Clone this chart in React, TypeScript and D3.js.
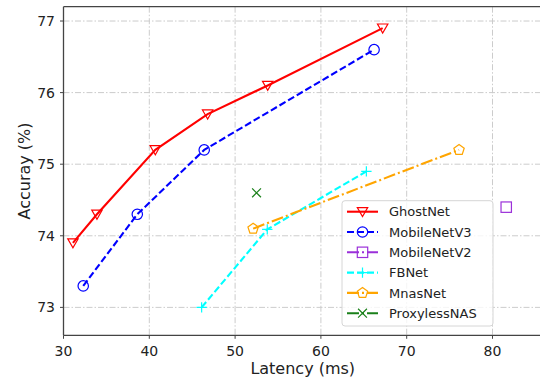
import React from "react";
import * as d3 from "d3";

// latency (ms) / accuracy (%)
const ghostLat = [31.1, 33.9, 40.7, 46.8, 53.8, 67.2];
const ghostAcc = [73.9, 74.3, 75.2, 75.7, 76.1, 76.9];
const mbv3Lat = [32.3, 38.6, 46.4, 66.2];
const mbv3Acc = [73.3, 74.3, 75.2, 76.6];
const mbv2Lat = [81.6];
const mbv2Acc = [74.4];
const fbLat = [46.1, 53.75, 65.3];
const fbAcc = [73.0, 74.09, 74.9];
const mnasLat = [52.1, 76.1];
const mnasAcc = [74.1, 75.2];
const proxLat = [52.5];
const proxAcc = [74.6];

const xTicks = [30, 40, 50, 60, 70, 80];
const yTicks = [73, 74, 75, 76, 77];

type Series = {
  name: string;
  lat: number[];
  acc: number[];
  color: string;
  dash: string;
  marker: string;
};

const series: Series[] = [
  { name: "GhostNet", lat: ghostLat, acc: ghostAcc, color: "#ff0000", dash: "", marker: "tri" },
  { name: "MobileNetV3", lat: mbv3Lat, acc: mbv3Acc, color: "#0000ff", dash: "7,3", marker: "circle" },
  { name: "MobileNetV2", lat: mbv2Lat, acc: mbv2Acc, color: "#9b30d9", dash: "12,3,2,3", marker: "square" },
  { name: "FBNet", lat: fbLat, acc: fbAcc, color: "#00ffff", dash: "7,3", marker: "plus" },
  { name: "MnasNet", lat: mnasLat, acc: mnasAcc, color: "#ffa500", dash: "12,3,2,3", marker: "pentagon" },
  { name: "ProxylessNAS", lat: proxLat, acc: proxAcc, color: "#1a801a", dash: "12,3,2,3", marker: "x" },
];

const W = 540;
const H = 377;
const left = 63.5;
const right = 542;
const top = 6.7;
const bottom = 335.3;
const font = "DejaVu Sans, sans-serif";

function Marker({ kind, x, y, color }: { kind: string; x: number; y: number; color: string }) {
  const s = 5.2;
  const common = { fill: "none", stroke: color, strokeWidth: 1.2 };
  if (kind === "tri") {
    const pts = [[x - s, y - s * 0.8], [x + s, y - s * 0.8], [x, y + s * 0.95]];
    return <polygon points={pts.map((p) => p.join(",")).join(" ")} {...common} />;
  }
  if (kind === "circle") return <circle cx={x} cy={y} r={s} {...common} />;
  if (kind === "square") return <rect x={x - s} y={y - s} width={s * 2} height={s * 2} {...common} />;
  if (kind === "plus")
    return <path d={`M${x - s},${y}H${x + s}M${x},${y - s}V${y + s}`} {...common} />;
  if (kind === "x") {
    const k = s * 0.85;
    return <path d={`M${x - k},${y - k}L${x + k},${y + k}M${x - k},${y + k}L${x + k},${y - k}`} {...common} />;
  }
  const pts = d3.range(5).map((i) => {
    const a = -Math.PI / 2 + (i * 2 * Math.PI) / 5;
    return [x + s * 1.05 * Math.cos(a), y + s * 1.05 * Math.sin(a)];
  });
  return <polygon points={pts.map((p) => p.join(",")).join(" ")} {...common} />;
}

export default function App() {
  const x = d3.scaleLinear().domain([30, 30 + (right - left) / 8.58]).range([left, right]);
  const y = d3.scaleLinear().domain([77.2, 72.61]).range([top, bottom]);
  const line = d3
    .line<[number, number]>()
    .x((d) => x(d[0]))
    .y((d) => y(d[1]));

  const legX = 342;
  const legY = 200.7;
  const legW = 151;
  const legH = 125.3;
  const rowH = 20.3;

  return (
    <svg width={W} height={H} style={{ position: "absolute", left: 0, top: 0, background: "#fff" }}>
      {/* grid */}
      <g stroke="#cccccc" strokeWidth={1} strokeDasharray="6,2,1.5,2">
        {xTicks.map((t) => (
          <line key={"gx" + t} x1={x(t)} x2={x(t)} y1={top} y2={bottom} />
        ))}
        {yTicks.map((t) => (
          <line key={"gy" + t} x1={left} x2={right} y1={y(t)} y2={y(t)} />
        ))}
      </g>

      {/* spines */}
      <g stroke="#444" strokeWidth={1.3} fill="none">
        <line x1={left} x2={left} y1={top} y2={bottom} />
        <line x1={left} x2={right} y1={bottom} y2={bottom} />
        <line x1={left} x2={right} y1={top} y2={top} />
      </g>

      {/* ticks */}
      <g fontFamily={font} fontSize={14} fill="#222">
        {xTicks.map((t) => (
          <g key={"tx" + t}>
            <line x1={x(t)} x2={x(t)} y1={bottom} y2={bottom + 3.5} stroke="#444" strokeWidth={1} />
            <text x={x(t)} y={356} textAnchor="middle">{t}</text>
          </g>
        ))}
        {yTicks.map((t) => (
          <g key={"ty" + t}>
            <line x1={left - 3.5} x2={left} y1={y(t)} y2={y(t)} stroke="#444" strokeWidth={1} />
            <text x={55} y={y(t) + 5} textAnchor="end">{t}</text>
          </g>
        ))}
      </g>

      <text x={(left + right) / 2} y={374} textAnchor="middle" fontFamily={font} fontSize={16} fill="#222">
        Latency (ms)
      </text>
      <text
        transform={`translate(30,${(top + bottom) / 2}) rotate(-90)`}
        textAnchor="middle"
        fontFamily={font}
        fontSize={16}
        fill="#222"
      >
        Accuray (%)
      </text>

      {/* series */}
      {series.map((s) => (
        <g key={s.name}>
          <path
            d={line(s.lat.map((v, i) => [v, s.acc[i]] as [number, number])) || ""}
            fill="none"
            stroke={s.color}
            strokeWidth={2.1}
            strokeDasharray={s.dash || undefined}
          />
          {s.lat.map((v, i) => (
            <Marker key={i} kind={s.marker} x={x(v)} y={y(s.acc[i])} color={s.color} />
          ))}
        </g>
      ))}

      {/* legend */}
      <rect x={legX} y={legY} width={legW} height={legH} rx={3} fill="#fff" fillOpacity={0.8} stroke="#d6d6d6" strokeWidth={1} />
      {series.map((s, i) => {
        const cy = 211.7 + i * rowH;
        return (
          <g key={"leg" + s.name}>
            <line
              x1={347}
              x2={378}
              y1={cy}
              y2={cy}
              stroke={s.color}
              strokeWidth={2.1}
              strokeDasharray={s.dash || undefined}
            />
            <Marker kind={s.marker} x={362.5} y={cy} color={s.color} />
            <text x={389} y={cy + 4.7} fontFamily={font} fontSize={13} fill="#222">
              {s.name}
            </text>
          </g>
        );
      })}
    </svg>
  );
}
